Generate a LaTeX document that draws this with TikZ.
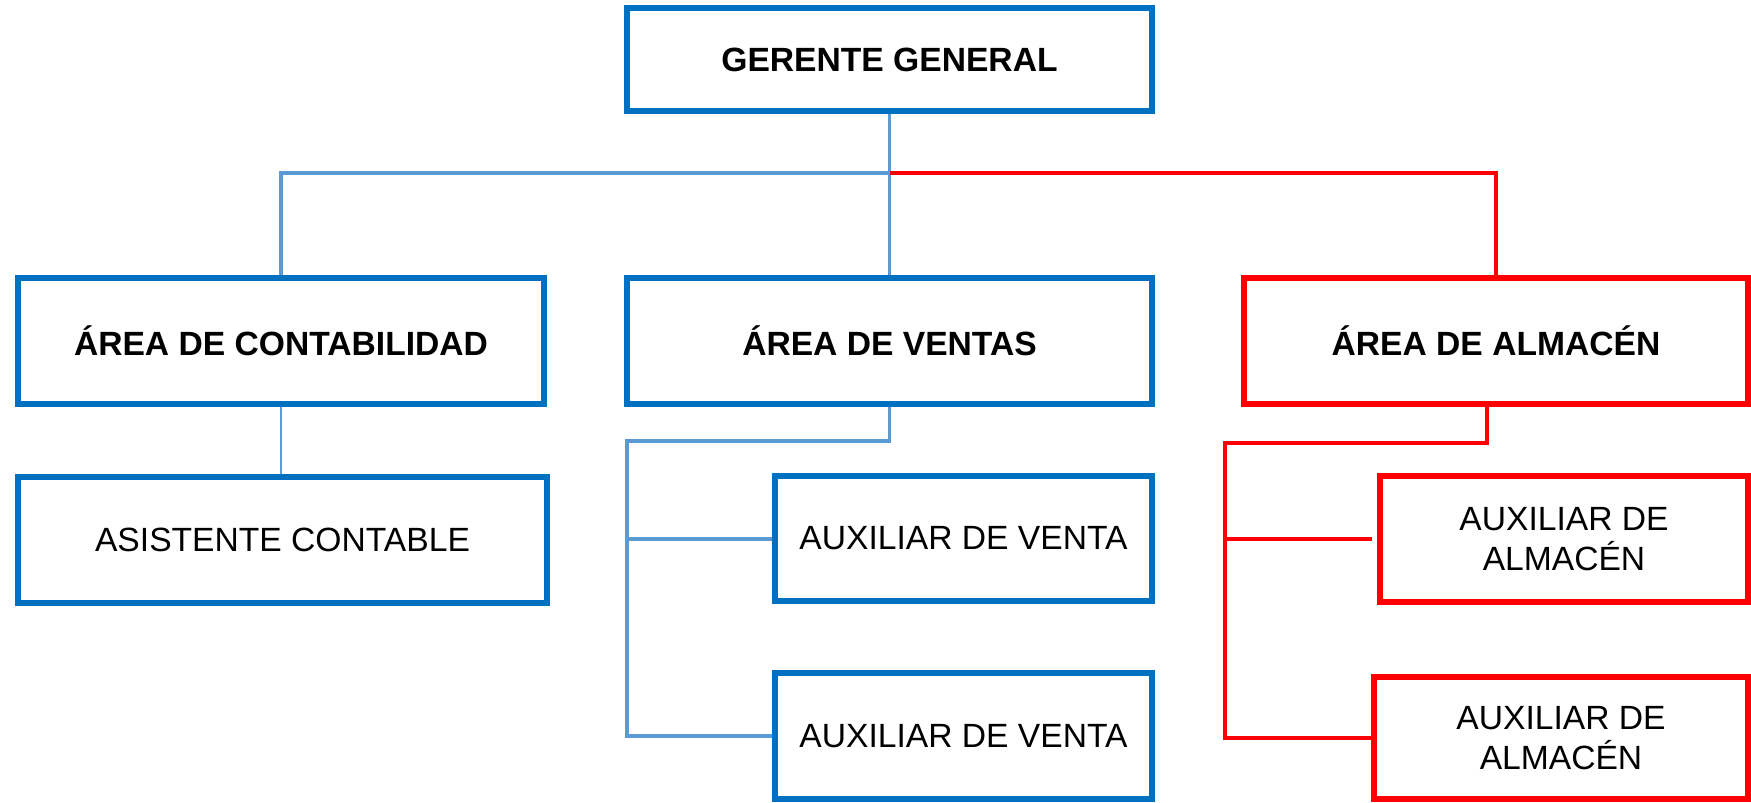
\documentclass[tikz,border=0pt]{standalone}
\usepackage{fontspec}
\setmainfont{Liberation Sans}
\usepackage{tikz}
\usetikzlibrary{positioning}

\definecolor{boxblue}{HTML}{0070C0}
\definecolor{lineblue}{HTML}{5B9BD5}
\definecolor{linered}{HTML}{FF0000}

\begin{document}
\begin{tikzpicture}[x=0.01cm, y=-0.01cm,
                box/.style={draw=boxblue, line width=1.7pt, align=center, inner sep=0pt,
                    minimum height=1.25cm, font=\fontsize{9.56}{11.6}\selectfont},
                redbox/.style={box, draw=linered},
                head/.style={font=\fontsize{9.56}{11.6}\selectfont\bfseries},
                bluelink/.style={draw=lineblue, line width=1.13pt},
                redlink/.style={draw=linered, line width=1.4pt},
                thinlink/.style={draw=lineblue, line width=0.3pt}]
                \useasboundingbox (0,0) rectangle (1751,802);

                \node[box, head, minimum width=5.25cm, minimum height=1.03cm] (gerente) at (889.5,59.5) {GERENTE GENERAL};
                \node[box, head, minimum width=5.26cm] (contab) at (281,341) {ÁREA DE CONTABILIDAD};
                \node[box, head, minimum width=5.25cm] (ventas) at (889.5,341) {ÁREA DE VENTAS};
                \node[redbox, head, minimum width=5.04cm] (almacen) at (1496,341) {ÁREA DE ALMACÉN};

                \node[box, minimum width=5.29cm] (asistente) at (282.5,540) {ASISTENTE CONTABLE};
                \node[box, minimum width=3.77cm] (venta1) at (963.5,538.5) {AUXILIAR DE VENTA};
                \node[box, minimum width=3.77cm] (venta2) at (963.5,736) {AUXILIAR DE VENTA};
                \node[redbox, minimum width=3.68cm] (almacen1) at (1564,539) {AUXILIAR DE\\ALMACÉN};
                \node[redbox, minimum width=3.74cm, minimum height=1.22cm] (almacen2) at (1561,738) {AUXILIAR DE\\ALMACÉN};

                \coordinate (hub) at (889.5,173);
                \coordinate (vbus) at (627,441);
                \coordinate (abus) at (1225,443);

                % gerente to the three areas
                \draw[bluelink] (gerente.south) -- (hub) -| (contab.north);
                \draw[bluelink] (hub) -- (ventas.north);
                \draw[redlink] (hub) -| (almacen.north);

                \draw[thinlink] (contab.south) -- (contab.south |- asistente.north);

                \draw[bluelink] (ventas.south) |- (vbus) |- (venta2.west);
                \draw[bluelink] (vbus |- venta1.west) -- (venta1.west);

                \draw[redlink] ([xshift=-0.09cm]almacen.south) |- (abus) |- (almacen2.west);
                \draw[redlink] (abus |- almacen1.west) -- ([xshift=-0.05cm]almacen1.west);
\end{tikzpicture}
\end{document}
